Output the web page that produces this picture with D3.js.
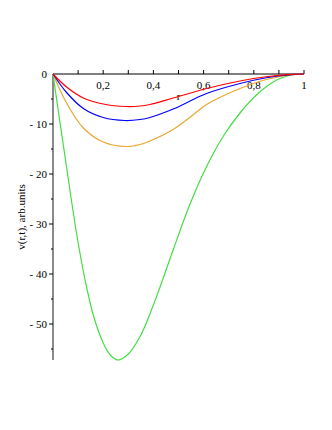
<!DOCTYPE html>
<html>
<head>
<meta charset="utf-8">
<script src="https://cdn.jsdelivr.net/npm/d3@7"></script>
<style>
  body { margin: 0; background: #fff; }
  svg text { font-family: "Liberation Serif", "DejaVu Serif", serif; font-size: 11px; fill: #000; }
</style>
</head>
<body>
<div id="chart"></div>
<script>
// values
var redR   = [0, 0.054, 0.121, 0.2, 0.293, 0.347, 0.386, 0.479, 0.612, 0.745, 0.85, 0.95, 1];
var redV   = [0, -2.6, -4.8, -6.0, -6.5, -6.4, -6.1, -4.8, -2.9, -1.4, -0.55, -0.08, 0];
var blueR  = [0, 0.054, 0.121, 0.2, 0.287, 0.347, 0.386, 0.479, 0.612, 0.745, 0.85, 0.95, 1];
var blueV  = [0, -3.7, -6.9, -8.7, -9.3, -9.1, -8.7, -7.0, -3.9, -1.9, -0.75, -0.12, 0];
var goldR  = [0, 0.054, 0.121, 0.2, 0.293, 0.347, 0.386, 0.479, 0.55, 0.612, 0.745, 0.85, 0.95, 1];
var goldV  = [0, -5.8, -10.8, -13.6, -14.5, -14.1, -13.4, -11.1, -8.5, -6.1, -2.9, -1.1, -0.15, 0];
var greenR = [0, 0.02, 0.044, 0.061, 0.081, 0.101, 0.127, 0.161, 0.2, 0.23, 0.26, 0.3, 0.347, 0.386, 0.42, 0.48, 0.546, 0.612, 0.679, 0.745, 0.81, 0.865, 0.904, 0.95, 1];
var greenV = [0, -7.0, -15.2, -21.0, -27.8, -34.0, -41.0, -48.3, -53.8, -56.3, -57.2, -56.0, -52.5, -48.0, -43.5, -35.0, -26.0, -18.5, -12.4, -7.8, -4.2, -2.0, -0.9, -0.2, 0];

var xTicks = [0.2, 0.4, 0.6, 0.8, 1];
var yTicks = [0, -10, -20, -30, -40, -50];

var width = 332, height = 430;

var x = d3.scaleLinear().domain([0, 1]).range([53, 304]);
var y = d3.scaleLinear().domain([0, -57.2]).range([74, 360]);

var svg = d3.select('#chart').append('svg')
    .attr('width', width)
    .attr('height', height);

// y axis (grey, thick)
svg.append('line')
    .attr('x1', x(0)).attr('x2', x(0))
    .attr('y1', y(0)).attr('y2', y(-57.2))
    .attr('stroke', '#8a8a8a').attr('stroke-width', 2);

// y ticks, major every 10, minor every 5, pointing left
d3.range(-5, -57, -5).forEach(function(v) {
  var major = (v % 10 === 0);
  svg.append('line')
      .attr('x1', x(0) - (major ? 4 : 2)).attr('x2', x(0))
      .attr('y1', y(v)).attr('y2', y(v))
      .attr('stroke', '#000').attr('stroke-width', 1);
});
svg.selectAll('.ylab').data(yTicks).enter().append('text')
    .attr('class', 'ylab')
    .attr('x', x(0) - 6)
    .attr('y', function(d) { return y(d) + 4; })
    .attr('text-anchor', 'end')
    .text(function(d) { return d === 0 ? '0' : '- ' + (-d); });

// x axis (black)
svg.append('line')
    .attr('x1', x(0)).attr('x2', x(1))
    .attr('y1', y(0)).attr('y2', y(0))
    .attr('stroke', '#000').attr('stroke-width', 1);

d3.range(1, 11).forEach(function(i) {
  var r = i / 10;
  svg.append('line')
      .attr('x1', x(r)).attr('x2', x(r))
      .attr('y1', y(0)).attr('y2', y(0) - 4)
      .attr('stroke', '#000').attr('stroke-width', 1);
});
svg.selectAll('.xlab').data(xTicks).enter().append('text')
    .attr('class', 'xlab')
    .attr('x', function(d) { return x(d); })
    .attr('y', y(0) + 15)
    .attr('text-anchor', 'middle')
    .text(function(d) { return d === 1 ? '1' : String(d).replace('.', ','); });

// axis titles
svg.append('text')
    .attr('x', x(0.5)).attr('y', y(0) + 26)
    .attr('text-anchor', 'middle')
    .text('r');
svg.append('text')
    .attr('transform', 'translate(25,217) rotate(-90)')
    .attr('text-anchor', 'middle')
    .text('v(r,t), arb.units');

// curves
var line = d3.line()
    .x(function(d) { return x(d[0]); })
    .y(function(d) { return y(d[1]); })
    .curve(d3.curveCatmullRom.alpha(0.5));

var series = [
  { r: greenR, v: greenV, color: '#44dd44' },
  { r: goldR,  v: goldV,  color: '#e6a832' },
  { r: blueR,  v: blueV,  color: '#0000ff' },
  { r: redR,   v: redV,   color: '#ff0000' }
];

series.forEach(function(s) {
  svg.append('path')
      .datum(d3.zip(s.r, s.v))
      .attr('d', line)
      .attr('fill', 'none')
      .attr('stroke', s.color)
      .attr('stroke-width', 1.2);
});
</script>
</body>
</html>
